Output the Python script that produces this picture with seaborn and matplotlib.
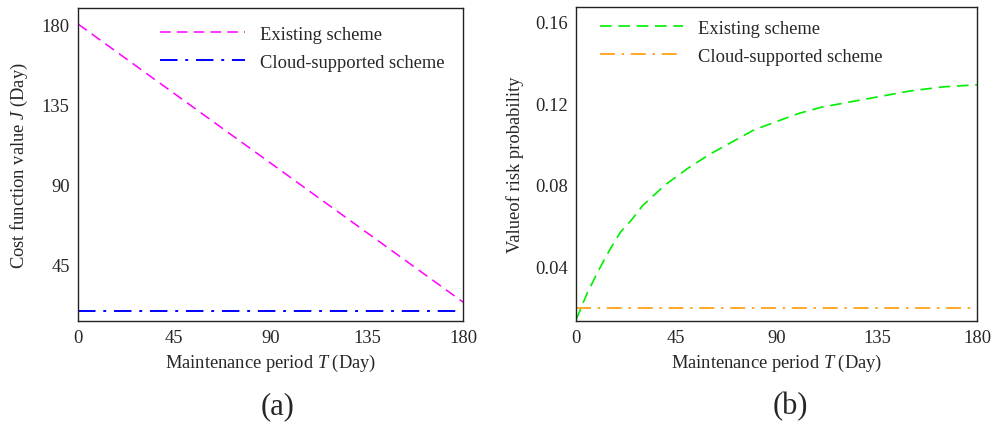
import matplotlib
matplotlib.use("Agg")
import matplotlib.pyplot as plt
import seaborn as sns

# (a) cost function value J vs maintenance period T
cost_days = [0, 180]
cost_existing = [180, 24]
cost_cloud = [19, 19]

# (b) risk probability vs maintenance period T
risk_days = [0, 5, 10, 15, 20, 25, 30, 40, 50, 60, 70, 80, 90, 100, 110, 120, 135, 150, 165, 180]
risk_existing = [0.014, 0.027, 0.038, 0.048, 0.057, 0.063, 0.070, 0.080, 0.088, 0.095,
                 0.101, 0.107, 0.111, 0.115, 0.118, 0.120, 0.123, 0.126, 0.128, 0.129]
risk_cloud_days = [0, 180]
risk_cloud = [0.0197, 0.0197]

x_ticks = [0, 45, 90, 135, 180]
cost_ticks = [45, 90, 135, 180]
risk_ticks = [0.04, 0.08, 0.12, 0.16]

sns.set_style("white")
plt.rcParams['font.family'] = ['Liberation Serif', 'DejaVu Serif']
plt.rcParams['mathtext.fontset'] = 'custom'
plt.rcParams['mathtext.rm'] = 'Liberation Serif'
plt.rcParams['mathtext.it'] = 'Liberation Serif:italic'
plt.rcParams['font.size'] = 13.3

fig = plt.figure(figsize=(9.98, 4.27), dpi=100)
ax1 = fig.add_axes([0.0782, 0.2459, 0.3858, 0.733])
ax2 = fig.add_axes([0.5772, 0.2459, 0.4018, 0.735])

dash = (0, (7, 4))
dashdot = (0, (9, 4, 1.5, 4))

sns.lineplot(x=cost_days, y=cost_existing, ax=ax1, color='#FF00FF', lw=1.1,
             linestyle=dash, label='Existing scheme')
sns.lineplot(x=cost_days, y=cost_cloud, ax=ax1, color='#0000FF', lw=1.4,
             linestyle=dashdot, label='Cloud-supported scheme')
ax1.set_xlim(0, 180)
ax1.set_ylim(13.4, 189)
ax1.set_xticks(x_ticks)
ax1.set_yticks(cost_ticks)
ax1.set_xlabel('Maintenance period $T$ (Day)')
ax1.set_ylabel('Cost function value $J$ (Day)')

sns.lineplot(x=risk_days, y=risk_existing, ax=ax2, color='#00EE00', lw=1.2,
             linestyle=dash, label='Existing scheme')
sns.lineplot(x=risk_cloud_days, y=risk_cloud, ax=ax2, color='#FF9900', lw=1.2,
             linestyle=dashdot, label='Cloud-supported scheme')
ax2.set_xlim(0, 180)
ax2.set_ylim(0.0134, 0.167)
ax2.set_xticks(x_ticks)
ax2.set_yticks(risk_ticks)
ax2.set_yticklabels(['0.04', '0.08', '0.12', '0.16'])
ax2.set_xlabel('Maintenance period $T$ (Day)')
ax2.set_ylabel('Valueof risk probability')

for ax in (ax1, ax2):
    for s in ax.spines.values():
        s.set_color('#222222')
        s.set_linewidth(1.0)
    ax.tick_params(length=0, pad=6)
    ax.xaxis.labelpad = 4
    ax.yaxis.labelpad = 8

ax1.legend(frameon=False, loc='upper left', bbox_to_anchor=(0.213, 0.944),
           borderaxespad=0, borderpad=0, handlelength=4.6, handletextpad=0.8,
           labelspacing=0.6, fontsize=13.3)
ax2.legend(frameon=False, loc='upper left', bbox_to_anchor=(0.06, 0.96),
           borderaxespad=0, borderpad=0, handlelength=4.5, handletextpad=0.8,
           labelspacing=0.6, fontsize=13.3)

fig.text(0.278, 0.047, '(a)', ha='center', va='center', fontsize=22)
fig.text(0.792, 0.047, '(b)', ha='center', va='center', fontsize=22)

fig.savefig('out.png', dpi=100)
